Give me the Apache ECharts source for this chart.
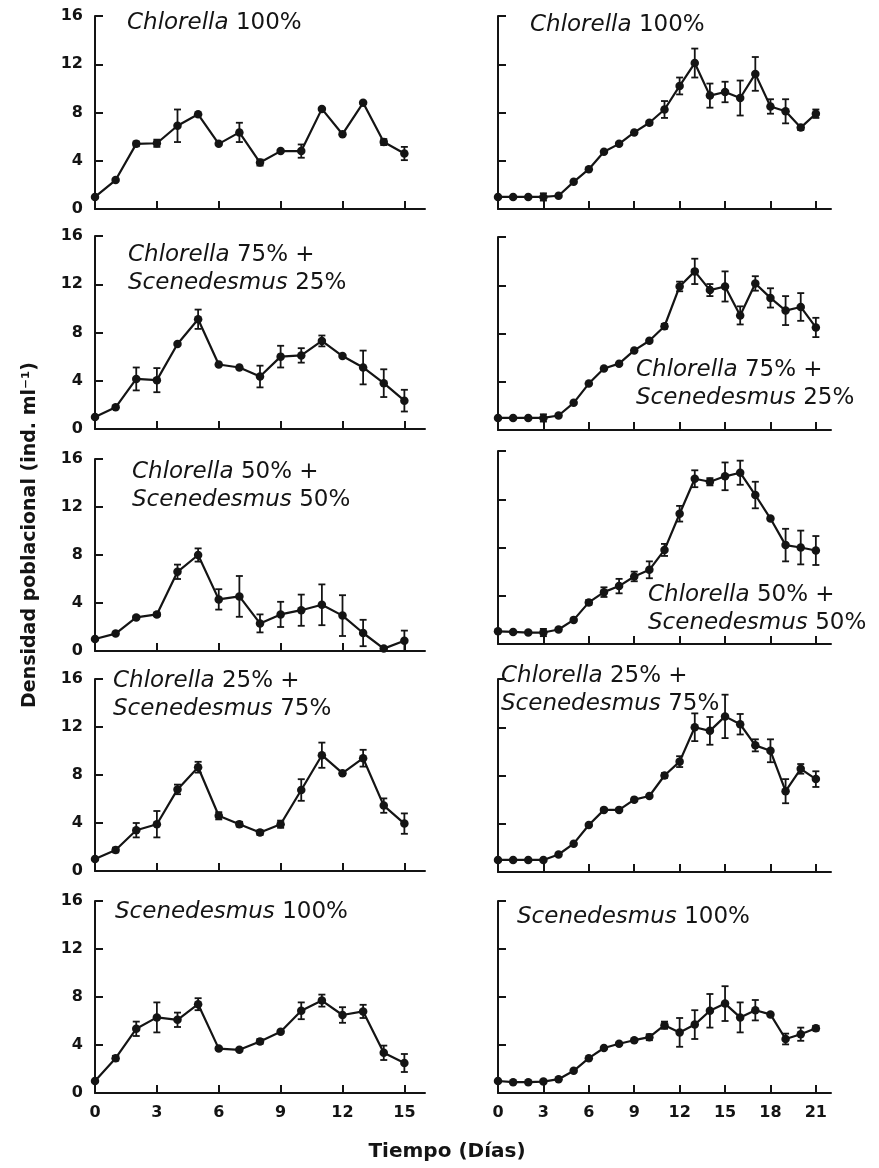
<!DOCTYPE html>
<html>
<head>
<meta charset="utf-8">
<script src="https://cdn.jsdelivr.net/npm/echarts@6/dist/echarts.min.js"></script>
<style>
  html, body { margin: 0; padding: 0; background: #ffffff; }
  #chart { width: 879px; height: 1168px; }
</style>
</head>
<body>
<div id="chart"></div>
<script>
// Culture days (left column: 15 days, right column: 21 days)
const shortDays = [0, 1, 2, 3, 4, 5, 6, 7, 8, 9, 10, 11, 12, 13, 14, 15];
const longDays = [0, 1, 2, 3, 4, 5, 6, 7, 8, 9, 10, 11, 12, 13, 14, 15, 16, 17, 18, 19, 20, 21];

// Tick values
const shortDayTicks = [0, 3, 6, 9, 12, 15];
const longDayTicks = [0, 3, 6, 9, 12, 15, 18, 21];
const densityTicks = [0, 4, 8, 12, 16];

// Panel captions ({i|...} = italic genus name)
const captionC100 = '{i|Chlorella} 100%';
const captionC75 = '{i|Chlorella} 75% +\n{i|Scenedesmus} 25%';
const captionC50 = '{i|Chlorella} 50% +\n{i|Scenedesmus} 50%';
const captionC25 = '{i|Chlorella} 25% +\n{i|Scenedesmus} 75%';
const captionS100 = '{i|Scenedesmus} 100%';

// Population density (ind. ml-1): mean and standard error, left column
const leftC100Mean = [1.0, 2.4, 5.4, 5.45, 6.9, 7.85, 5.4, 6.35, 3.85, 4.8, 4.8, 8.3, 6.2, 8.8, 5.55, 4.6];
const leftC100Err  = [0, 0, 0.2, 0.3, 1.35, 0, 0, 0.8, 0.25, 0, 0.55, 0, 0, 0, 0.25, 0.55];
const leftC75Mean  = [1.0, 1.8, 4.15, 4.05, 7.05, 9.1, 5.35, 5.1, 4.35, 6.0, 6.1, 7.3, 6.05, 5.1, 3.8, 2.35];
const leftC75Err   = [0, 0.1, 0.95, 1.0, 0, 0.8, 0, 0, 0.9, 0.9, 0.6, 0.45, 0, 1.4, 1.15, 0.9];
const leftC50Mean  = [1.0, 1.45, 2.8, 3.05, 6.6, 8.0, 4.3, 4.55, 2.3, 3.05, 3.4, 3.85, 2.95, 1.5, 0.2, 0.85];
const leftC50Err   = [0, 0, 0.1, 0.15, 0.6, 0.55, 0.85, 1.7, 0.75, 1.05, 1.3, 1.7, 1.7, 1.1, 0, 0.85];
const leftC25Mean  = [1.0, 1.75, 3.4, 3.9, 6.8, 8.65, 4.6, 3.9, 3.2, 3.9, 6.75, 9.65, 8.15, 9.4, 5.45, 3.95];
const leftC25Err   = [0, 0.2, 0.6, 1.1, 0.4, 0.45, 0.3, 0.2, 0.2, 0.3, 0.9, 1.05, 0.15, 0.7, 0.6, 0.85];
const leftS100Mean = [1.0, 2.9, 5.35, 6.3, 6.1, 7.4, 3.7, 3.6, 4.3, 5.1, 6.85, 7.7, 6.5, 6.8, 3.35, 2.5];
const leftS100Err  = [0, 0.2, 0.6, 1.25, 0.6, 0.5, 0.1, 0.1, 0.2, 0.1, 0.7, 0.5, 0.65, 0.55, 0.6, 0.75];

// Population density (ind. ml-1): mean and standard error, right column
const rightC100Mean = [1.0, 1.0, 1.0, 1.0, 1.1, 2.25, 3.3, 4.75, 5.4, 6.35, 7.15, 8.25, 10.2, 12.1, 9.4, 9.7, 9.2, 11.2, 8.5, 8.1, 6.75, 7.9];
const rightC100Err  = [0, 0, 0, 0.3, 0, 0, 0, 0, 0, 0, 0.15, 0.7, 0.7, 1.2, 1.0, 0.85, 1.45, 1.4, 0.6, 1.0, 0.2, 0.35];
const rightC75Mean  = [1.0, 1.0, 1.0, 1.0, 1.2, 2.25, 3.85, 5.1, 5.5, 6.6, 7.4, 8.6, 11.9, 13.15, 11.6, 11.9, 9.5, 12.15, 10.95, 9.9, 10.2, 8.5];
const rightC75Err   = [0, 0, 0, 0.3, 0, 0, 0, 0, 0, 0, 0, 0.2, 0.4, 1.05, 0.5, 1.25, 0.75, 0.6, 0.8, 1.2, 1.15, 0.8];
const rightC50Mean  = [1.05, 1.0, 0.95, 0.95, 1.2, 2.0, 3.45, 4.3, 4.8, 5.6, 6.15, 7.8, 10.8, 13.7, 13.45, 13.9, 14.2, 12.35, 10.4, 8.2, 8.0, 7.75];
const rightC50Err   = [0, 0, 0, 0.3, 0, 0, 0.2, 0.4, 0.6, 0.4, 0.7, 0.5, 0.65, 0.7, 0.3, 1.15, 1.0, 1.1, 0, 1.35, 1.4, 1.2];
const rightC25Mean  = [1.0, 1.0, 1.0, 1.0, 1.45, 2.35, 3.9, 5.15, 5.15, 6.0, 6.3, 8.0, 9.15, 12.0, 11.7, 12.9, 12.25, 10.5, 10.05, 6.7, 8.55, 7.7];
const rightC25Err   = [0, 0, 0, 0, 0, 0, 0, 0, 0, 0, 0, 0.2, 0.45, 1.15, 1.15, 1.8, 0.85, 0.5, 0.95, 1.0, 0.4, 0.65];
const rightS100Mean = [1.0, 0.9, 0.9, 0.95, 1.15, 1.85, 2.9, 3.75, 4.1, 4.4, 4.65, 5.65, 5.05, 5.7, 6.85, 7.45, 6.3, 6.9, 6.55, 4.5, 4.9, 5.4];
const rightS100Err  = [0, 0, 0, 0.1, 0, 0, 0, 0, 0, 0.1, 0.25, 0.3, 1.2, 1.2, 1.4, 1.45, 1.25, 0.85, 0, 0.45, 0.55, 0.2];

// Axis titles
const yAxisTitle = 'Densidad poblacional (ind. ml\u207B\u00B9)';
const xAxisTitle = 'Tiempo (D\u00EDas)';

// ---------------------------------------------------------------------------
// Layout and styling
const FONT = '"DejaVu Sans", "Liberation Sans", sans-serif';
const INK = '#141414';

const LEFT_X = { left: 95, width: 330, xMax: 16 };
const RIGHT_X = { left: 498, width: 333, xMax: 22 };

// One entry per panel: column, plot box, caption placement
const panels = [
  { col: LEFT_X,  top: 16,  height: 193, days: shortDays, ticks: shortDayTicks, mean: leftC100Mean,  err: leftC100Err,  caption: captionC100, capLeft: 127, capTop: 9 },
  { col: RIGHT_X, top: 16,  height: 193, days: longDays,  ticks: longDayTicks,  mean: rightC100Mean, err: rightC100Err, caption: captionC100, capLeft: 530, capTop: 11 },
  { col: LEFT_X,  top: 236, height: 193, days: shortDays, ticks: shortDayTicks, mean: leftC75Mean,   err: leftC75Err,   caption: captionC75,  capLeft: 128, capTop: 241 },
  { col: RIGHT_X, top: 237, height: 193, days: longDays,  ticks: longDayTicks,  mean: rightC75Mean,  err: rightC75Err,  caption: captionC75,  capLeft: 636, capTop: 356 },
  { col: LEFT_X,  top: 459, height: 192, days: shortDays, ticks: shortDayTicks, mean: leftC50Mean,   err: leftC50Err,   caption: captionC50,  capLeft: 132, capTop: 458 },
  { col: RIGHT_X, top: 451, height: 193, days: longDays,  ticks: longDayTicks,  mean: rightC50Mean,  err: rightC50Err,  caption: captionC50,  capLeft: 648, capTop: 581 },
  { col: LEFT_X,  top: 679, height: 192, days: shortDays, ticks: shortDayTicks, mean: leftC25Mean,   err: leftC25Err,   caption: captionC25,  capLeft: 113, capTop: 667 },
  { col: RIGHT_X, top: 679, height: 193, days: longDays,  ticks: longDayTicks,  mean: rightC25Mean,  err: rightC25Err,  caption: captionC25,  capLeft: 501, capTop: 662 },
  { col: LEFT_X,  top: 901, height: 192, days: shortDays, ticks: shortDayTicks, mean: leftS100Mean,  err: leftS100Err,  caption: captionS100, capLeft: 115, capTop: 898 },
  { col: RIGHT_X, top: 901, height: 192, days: longDays,  ticks: longDayTicks,  mean: rightS100Mean, err: rightS100Err, caption: captionS100, capLeft: 517, capTop: 903 }
];

// Vertical error bar with caps at mean ± SE
function renderErrorBar(params, api) {
  const x = api.value(0);
  const lo = api.coord([x, api.value(1)]);
  const hi = api.coord([x, api.value(2)]);
  const half = 3.5;
  const style = { stroke: INK, lineWidth: 1.8 };
  return {
    type: 'group',
    children: [
      { type: 'line', shape: { x1: hi[0], y1: hi[1], x2: lo[0], y2: lo[1] }, style: style },
      { type: 'line', shape: { x1: hi[0] - half, y1: hi[1], x2: hi[0] + half, y2: hi[1] }, style: style },
      { type: 'line', shape: { x1: lo[0] - half, y1: lo[1], x2: lo[0] + half, y2: lo[1] }, style: style }
    ]
  };
}

const tickLabelStyle = { margin: 12, color: INK, fontFamily: FONT, fontSize: 16, fontWeight: 'bold' };

const grid = [], xAxis = [], yAxis = [], series = [], title = [];

panels.forEach(function (p, i) {
  const isLeft = p.col === LEFT_X;
  const isBottom = i >= panels.length - 2;

  grid.push({ left: p.col.left, width: p.col.width, top: p.top, height: p.height, containLabel: false });

  xAxis.push({
    type: 'value', gridIndex: i, min: 0, max: p.col.xMax, interval: 3,
    axisLine: { show: true, onZero: false, lineStyle: { color: INK, width: 2 } },
    axisTick: { show: true, inside: true, length: 8, customValues: p.ticks, lineStyle: { color: INK, width: 2 } },
    axisLabel: Object.assign({ show: isBottom, customValues: p.ticks }, tickLabelStyle),
    splitLine: { show: false }
  });

  yAxis.push({
    type: 'value', gridIndex: i, min: 0, max: 16, interval: 4,
    axisLine: { show: true, onZero: false, lineStyle: { color: INK, width: 2 } },
    axisTick: { show: true, inside: true, length: 8, customValues: densityTicks, lineStyle: { color: INK, width: 2 } },
    axisLabel: Object.assign({ show: isLeft, customValues: densityTicks }, tickLabelStyle),
    splitLine: { show: false }
  });

  series.push({
    type: 'line', xAxisIndex: i, yAxisIndex: i,
    data: p.days.map(function (d, k) { return [d, p.mean[k]]; }),
    symbol: 'circle', symbolSize: 8.5, showSymbol: true,
    lineStyle: { color: INK, width: 2.2 },
    itemStyle: { color: INK },
    z: 2, silent: true
  });

  const bars = [];
  p.days.forEach(function (d, k) {
    if (p.err[k] > 0) bars.push([d, p.mean[k] - p.err[k], p.mean[k] + p.err[k]]);
  });
  series.push({
    type: 'custom', xAxisIndex: i, yAxisIndex: i,
    data: bars, renderItem: renderErrorBar, z: 3, silent: true
  });

  title.push({
    text: p.caption, left: p.capLeft, top: p.capTop, padding: 0,
    textStyle: {
      fontFamily: FONT, fontSize: 23, fontWeight: 'normal', color: INK, lineHeight: 28,
      rich: { i: { fontFamily: FONT, fontSize: 23, fontStyle: 'italic', color: INK, lineHeight: 28 } }
    }
  });
});

const chart = echarts.init(document.getElementById('chart'), null, { renderer: 'canvas' });
chart.setOption({
  backgroundColor: '#ffffff',
  animation: false,
  title: title,
  grid: grid,
  xAxis: xAxis,
  yAxis: yAxis,
  series: series,
  graphic: [
    {
      type: 'text', x: 30, y: 535, rotation: Math.PI / 2,
      style: { text: yAxisTitle, font: 'bold 19px ' + FONT, fill: INK, align: 'center', verticalAlign: 'middle' }
    },
    {
      type: 'text', x: 447, y: 1152,
      style: { text: xAxisTitle, font: 'bold 20px ' + FONT, fill: INK, align: 'center', verticalAlign: 'middle' }
    }
  ]
});
</script>
</body>
</html>
